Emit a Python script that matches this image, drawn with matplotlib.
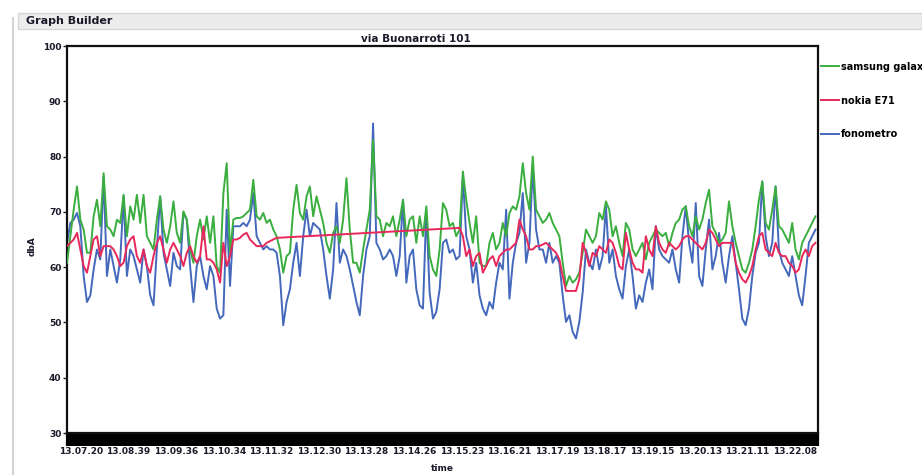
import numpy as np
import matplotlib.pyplot as plt
from matplotlib.patches import Rectangle
from matplotlib.lines import Line2D

# sound level readings (dbA), one value per sample
samsung = [
    60.8, 65.6, 70.4, 74.6, 68.6, 66.8, 62.6, 62.6, 69.2, 72.2, 67.4, 77.0, 67.4, 66.8, 65.6, 68.6,
    68.0, 73.1, 65.6, 71.0, 68.6, 73.1, 68.0, 73.1, 65.6, 64.4, 63.2, 68.6, 72.8, 66.8, 64.4, 67.4,
    71.9, 66.2, 64.4, 70.1, 68.6, 63.2, 60.8, 65.6, 68.6, 65.0, 69.2, 64.4, 69.2, 60.2, 59.0, 73.4,
    78.8, 62.6, 68.6, 68.9, 68.9, 69.2, 69.8, 70.4, 75.8, 69.2, 68.6, 69.8, 68.0, 68.6, 66.8, 65.6,
    63.2, 59.0, 62.0, 62.6, 70.4, 74.9, 69.8, 68.6, 72.8, 74.6, 69.2, 72.8, 70.4, 68.0, 64.4, 62.6,
    66.2, 67.4, 64.4, 68.6, 76.1, 66.8, 60.8, 60.8, 59.0, 63.2, 66.8, 70.4, 83.0, 69.2, 68.6, 65.6,
    68.0, 67.4, 69.2, 65.6, 68.6, 72.2, 65.6, 68.6, 69.2, 64.4, 69.2, 65.6, 71.0, 62.0, 59.6, 58.4,
    63.2,
    71.6, 70.4, 67.4, 68.0, 65.6, 66.8, 77.3, 72.2, 68.0, 64.4, 69.2, 60.8, 60.2, 60.2, 64.4, 66.2,
    63.2, 64.4, 68.0, 65.6, 69.8, 71.0, 70.4, 72.8, 78.8, 73.4, 70.4, 80.0, 70.4, 69.2, 68.0, 68.6,
    69.8, 68.0, 66.8, 65.6, 60.8, 56.6, 58.4, 57.2, 57.8, 59.0, 62.6, 66.8, 65.6, 64.4, 65.6, 69.8,
    68.6, 71.9, 70.4, 65.6, 67.4, 64.4, 62.0, 68.0, 66.8, 63.2, 62.0, 63.2, 64.4, 61.4, 64.4, 65.6,
    66.8, 66.2, 65.6, 66.2, 63.8, 66.2, 68.0, 68.6, 70.4, 71.0, 67.4, 65.6, 69.2, 66.8, 68.6, 71.6,
    74.0, 67.4, 66.2, 64.4, 65.0, 66.2, 71.9, 67.4, 64.4, 62.0, 59.6, 59.0, 60.8, 63.2, 67.4, 72.2,
    75.5, 68.0, 66.8, 70.4, 74.6, 67.4, 66.8, 65.6, 64.4, 68.0, 63.2, 61.4, 64.4, 65.6, 66.8, 68.0,
    69.2,
]

# nokia E71 has no readings in the middle stretch (NaN)
nokia = [
    63.8, 64.4, 65.0, 66.2, 63.2, 60.2, 59.0, 62.0, 65.0, 65.6, 62.0, 63.8, 63.8, 63.8, 63.2, 62.0,
    60.2, 60.8, 63.8, 65.0, 65.6, 62.0, 60.8, 63.2, 60.2, 59.0, 62.0, 64.4, 65.6, 63.2, 60.8, 63.2,
    64.4, 63.2, 62.0, 60.2, 62.6, 63.8, 62.0, 60.8, 62.0, 67.4, 61.4, 61.4, 60.8, 59.6, 57.2, 64.4,
    60.2, 62.0, 65.0, 65.0, 65.3, 65.9, 66.2, 65.0, 64.4, 63.8, 63.8, 63.8, 64.4, 64.7, 65.0, 65.3,
] + [np.nan] * 54 + [
    67.1, 65.6, 62.0, 63.2, 60.2, 62.0, 62.6, 59.0, 60.2, 61.4, 62.0, 60.2, 62.0, 62.6, 63.2, 63.2,
    63.8, 64.4, 68.6, 66.8, 65.6, 63.2, 63.2, 63.8, 63.8, 64.1, 64.4, 63.8, 63.2, 62.6, 61.4, 58.4,
    55.7, 55.7, 55.7, 55.7, 57.8, 64.4, 62.6, 60.2, 62.6, 62.0, 63.8, 63.2, 62.6, 65.0, 64.4, 62.6,
    60.2, 59.6, 66.2, 63.2, 60.8, 59.6, 59.6, 59.0, 65.6, 63.2, 62.0, 67.4, 64.4, 63.2, 62.6, 64.4,
    63.8, 63.2, 63.8, 65.0, 65.6, 65.6, 65.0, 64.4, 63.8, 63.2, 64.4, 66.8, 66.2, 65.0, 63.8, 64.4,
    64.4, 64.4, 64.4, 60.8, 59.0, 57.8, 57.2, 58.4, 60.2, 63.2, 65.6, 66.2, 63.2, 62.6, 62.0, 64.4,
    62.6, 62.0, 62.0, 60.8, 60.2, 59.0, 59.6, 62.0, 63.2, 62.0, 63.8, 64.4,
]

fonometro = [
    64.4, 68.0, 68.6, 69.8, 67.4, 58.4, 53.7, 54.9, 59.6, 63.2, 61.4, 76.4, 58.4, 63.2, 60.2, 57.2,
    61.4, 72.8, 58.4, 63.2, 62.0, 59.6, 57.2, 63.2, 60.2, 54.9, 53.1, 63.2, 72.8, 62.6, 59.6, 56.6,
    62.6, 60.2, 59.6, 69.8, 68.6, 60.2, 53.7, 60.2, 62.0, 58.4, 56.0, 60.2, 58.4, 52.5, 50.7, 51.3,
    70.4, 56.6, 67.4, 67.4, 67.4, 68.0, 67.4, 68.6, 73.4, 65.6, 64.4, 63.2, 63.8, 63.2, 63.2, 62.6,
    58.4, 49.5, 53.7, 56.0, 60.8, 64.4, 58.4, 65.6, 70.4, 65.6, 68.0, 67.4, 66.8, 63.2, 58.4, 54.3,
    59.6, 71.6, 60.8, 63.2, 62.0, 59.6, 56.6, 53.7, 51.3, 58.4, 63.2, 65.6, 86.0, 64.4, 63.2, 61.4,
    62.0, 63.2, 62.0, 58.4, 62.0, 72.2, 57.2, 62.0, 63.2, 56.0, 53.1, 52.5, 70.4, 55.4, 50.7, 51.9,
    56.0,
    64.4, 65.0, 62.6, 63.2, 61.4, 62.0, 76.4, 65.6, 63.2, 57.2, 60.8, 54.9, 52.5, 51.3, 53.7, 52.5,
    57.2, 60.8, 59.6, 70.4, 54.3, 60.8, 64.4, 66.2, 73.4, 60.8, 64.4, 78.2, 66.8, 63.2, 63.2, 60.8,
    64.4, 60.8, 62.0, 60.8, 54.9, 50.1, 51.3, 48.3, 47.1, 50.1, 55.4, 63.2, 60.8, 59.6, 63.2, 59.6,
    62.0, 71.0, 60.8, 63.2, 58.4, 56.0, 54.3, 60.2, 63.2, 58.4, 52.5, 54.9, 53.7, 57.2, 59.6, 56.0,
    67.4, 63.2, 62.0, 61.4, 60.8, 63.2, 59.6, 57.2, 65.6, 71.0, 64.4, 60.8, 71.6, 58.4, 56.6, 63.2,
    68.6, 59.6, 62.0, 66.2, 60.8, 57.2, 62.0, 65.6, 60.8, 56.0, 50.7, 49.5, 52.5, 58.4, 62.6, 64.4,
    75.5, 65.6, 62.0, 64.4, 74.6, 63.2, 60.8, 59.6, 58.4, 62.0, 58.4, 54.9, 53.1, 58.4, 64.4, 65.6,
    66.8,
]

time_labels = ["13.07.20", "13.08.39", "13.09.36", "13.10.34", "13.11.32", "13.12.30",
               "13.13.28", "13.14.26", "13.15.23", "13.16.21", "13.17.19", "13.18.17",
               "13.19.15", "13.20.13", "13.21.11", "13.22.08"]

green = "#3aae3f"
red = "#e8285a"
blue = "#4468bb"
txt = "#1a1a2a"

idx = np.arange(len(samsung))
nokia_arr = np.array(nokia)
ok = ~np.isnan(nokia_arr)

fig = plt.figure(figsize=(9.22, 4.75), dpi=100)
fig.patch.set_facecolor("white")

# window header strip
fig.patches.append(Rectangle((0.020, 0.939), 0.98, 0.034, transform=fig.transFigure,
                             facecolor="#ececec", edgecolor="#d6d6d6", lw=1.0))
fig.text(0.028, 0.956, "Graph Builder", fontsize=8, fontweight="bold", color=txt, va="center")
fig.add_artist(Line2D([0.014, 0.014], [0.0, 0.962], transform=fig.transFigure,
                      color="#d4d4d4", lw=1.6))

ax = fig.add_axes([0.0727, 0.0884, 0.8145, 0.8147])
ax.plot(idx, fonometro, color=blue, lw=1.4, label="fonometro", zorder=2)
ax.plot(idx, samsung, color=green, lw=1.4, label="samsung galaxy", zorder=3)
ax.plot(idx[ok], nokia_arr[ok], color=red, lw=1.4, label="nokia E71", zorder=4)

ax.set_xlim(0, len(samsung) - 1)
ax.set_ylim(30, 100)
ax.set_yticks(range(30, 101, 10))
ax.tick_params(axis="y", length=3, width=1, labelsize=6.5, colors=txt, pad=1)
for lab in ax.get_yticklabels():
    lab.set_fontweight("bold")

# dense time ticks form the dark band under the plot
ax.set_xticks(np.arange(0, len(samsung), 0.25), minor=True)
ax.set_xticks(np.linspace(4.2, 218.8, len(time_labels)))
ax.set_xticklabels(time_labels, fontsize=6.5, fontweight="bold", color=txt)
ax.tick_params(axis="x", which="minor", length=9.4, width=1.6, color="black")
ax.tick_params(axis="x", which="major", length=9.4, width=1.6, color="black", pad=1)

for s in ax.spines.values():
    s.set_linewidth(1.6)
    s.set_color("#111111")

fig.text(0.451, 0.918, "via Buonarroti 101", fontsize=7.5, fontweight="bold",
         color=txt, ha="center", va="center")
fig.text(0.035, 0.482, "dbA", fontsize=6.5, fontweight="bold", color=txt,
         rotation=90, ha="center", va="center")
fig.text(0.480, 0.013, "time", fontsize=6.5, fontweight="bold", color=txt,
         ha="center", va="center")

h, l = ax.get_legend_handles_labels()
order = [1, 2, 0]
ax.legend([h[i] for i in order], [l[i] for i in order], loc="upper left",
          bbox_to_anchor=(1.0, 0.967), frameon=False, handlelength=1.9,
          handletextpad=0.15, labelspacing=2.45, borderaxespad=0, borderpad=0.3,
          prop={"weight": "bold", "size": 7})

fig.savefig("out.png", dpi=100)
